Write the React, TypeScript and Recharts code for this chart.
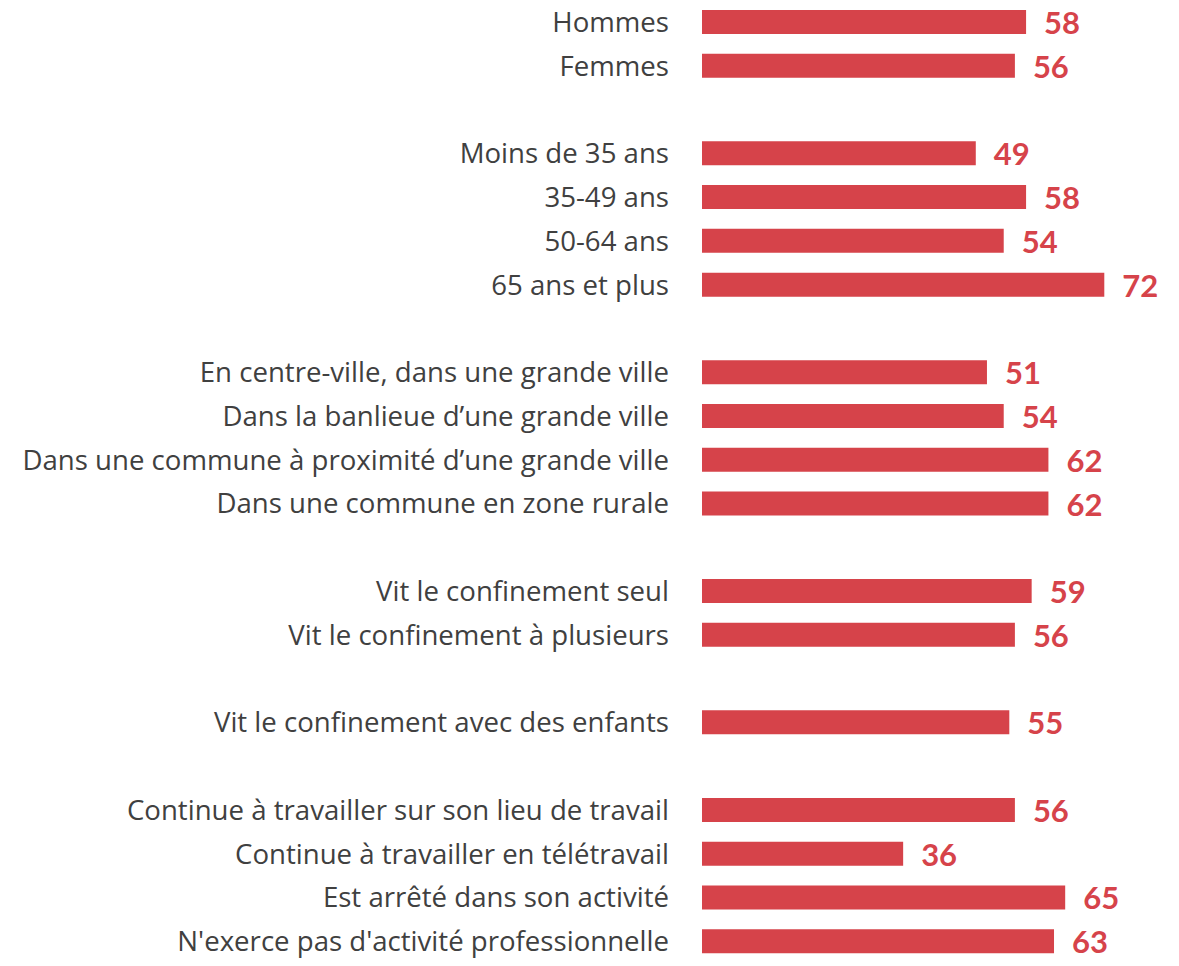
import { BarChart, Bar, XAxis, YAxis, LabelList } from 'recharts'

// empty strings are the spacer rows between groups
const categories = [
  'Hommes',
  'Femmes',
  '',
  'Moins de 35 ans',
  '35-49 ans',
  '50-64 ans',
  '65 ans et plus',
  '',
  'En centre-ville, dans une grande ville',
  'Dans la banlieue d’une grande ville',
  'Dans une commune à proximité d’une grande ville',
  'Dans une commune en zone rurale',
  '',
  'Vit le confinement seul',
  'Vit le confinement à plusieurs',
  '',
  'Vit le confinement avec des enfants',
  '',
  'Continue à travailler sur son lieu de travail',
  'Continue à travailler en télétravail',
  'Est arrêté dans son activité',
  "N'exerce pas d'activité professionnelle",
]

const values: (number | null)[] = [
  58, 56, null, 49, 58, 54, 72, null, 51, 54, 62, 62, null, 59, 56, null, 55, null, 56, 36, 65, 63,
]

const RED = '#D6434A'
const LABEL_FONT = '"Open Sans", Lato, sans-serif'
const VALUE_FONT = 'Lato, "Open Sans", sans-serif'

const chartData = categories.map((name, i) => ({
  key: `row-${i}`,
  name,
  value: values[i],
}))

function CategoryTick(props: any) {
  const { y, payload } = props
  const row = chartData[payload.index]
  if (!row || !row.name) return null
  return (
    <text
      x={669}
      y={y}
      dy={10}
      textAnchor="end"
      fill="#404040"
      fontFamily={LABEL_FONT}
      fontSize={27.6}
    >
      {row.name}
    </text>
  )
}

function ValueLabel(props: any) {
  const { x, y, width, height, value } = props
  if (value == null) return null
  return (
    <text
      x={x + width + 18}
      y={y + height / 2}
      dy={12}
      fill={RED}
      fontFamily={VALUE_FONT}
      fontWeight={700}
      fontSize={31}
    >
      {value}
    </text>
  )
}

export default function App() {
  return (
    <div style={{ position: 'absolute', left: 0, top: 0, background: '#fff' }}>
      <BarChart
        layout="vertical"
        width={1179}
        height={966}
        data={chartData}
        margin={{ top: 0, right: 30, left: 0, bottom: 3 }}
      >
        <XAxis type="number" domain={[0, 80]} hide />
        <YAxis
          type="category"
          dataKey="key"
          width={702}
          axisLine={false}
          tickLine={false}
          interval={0}
          tick={<CategoryTick />}
        />
        <Bar dataKey="value" fill={RED} barSize={24} isAnimationActive={false}>
          <LabelList dataKey="value" content={<ValueLabel />} />
        </Bar>
      </BarChart>
    </div>
  )
}
